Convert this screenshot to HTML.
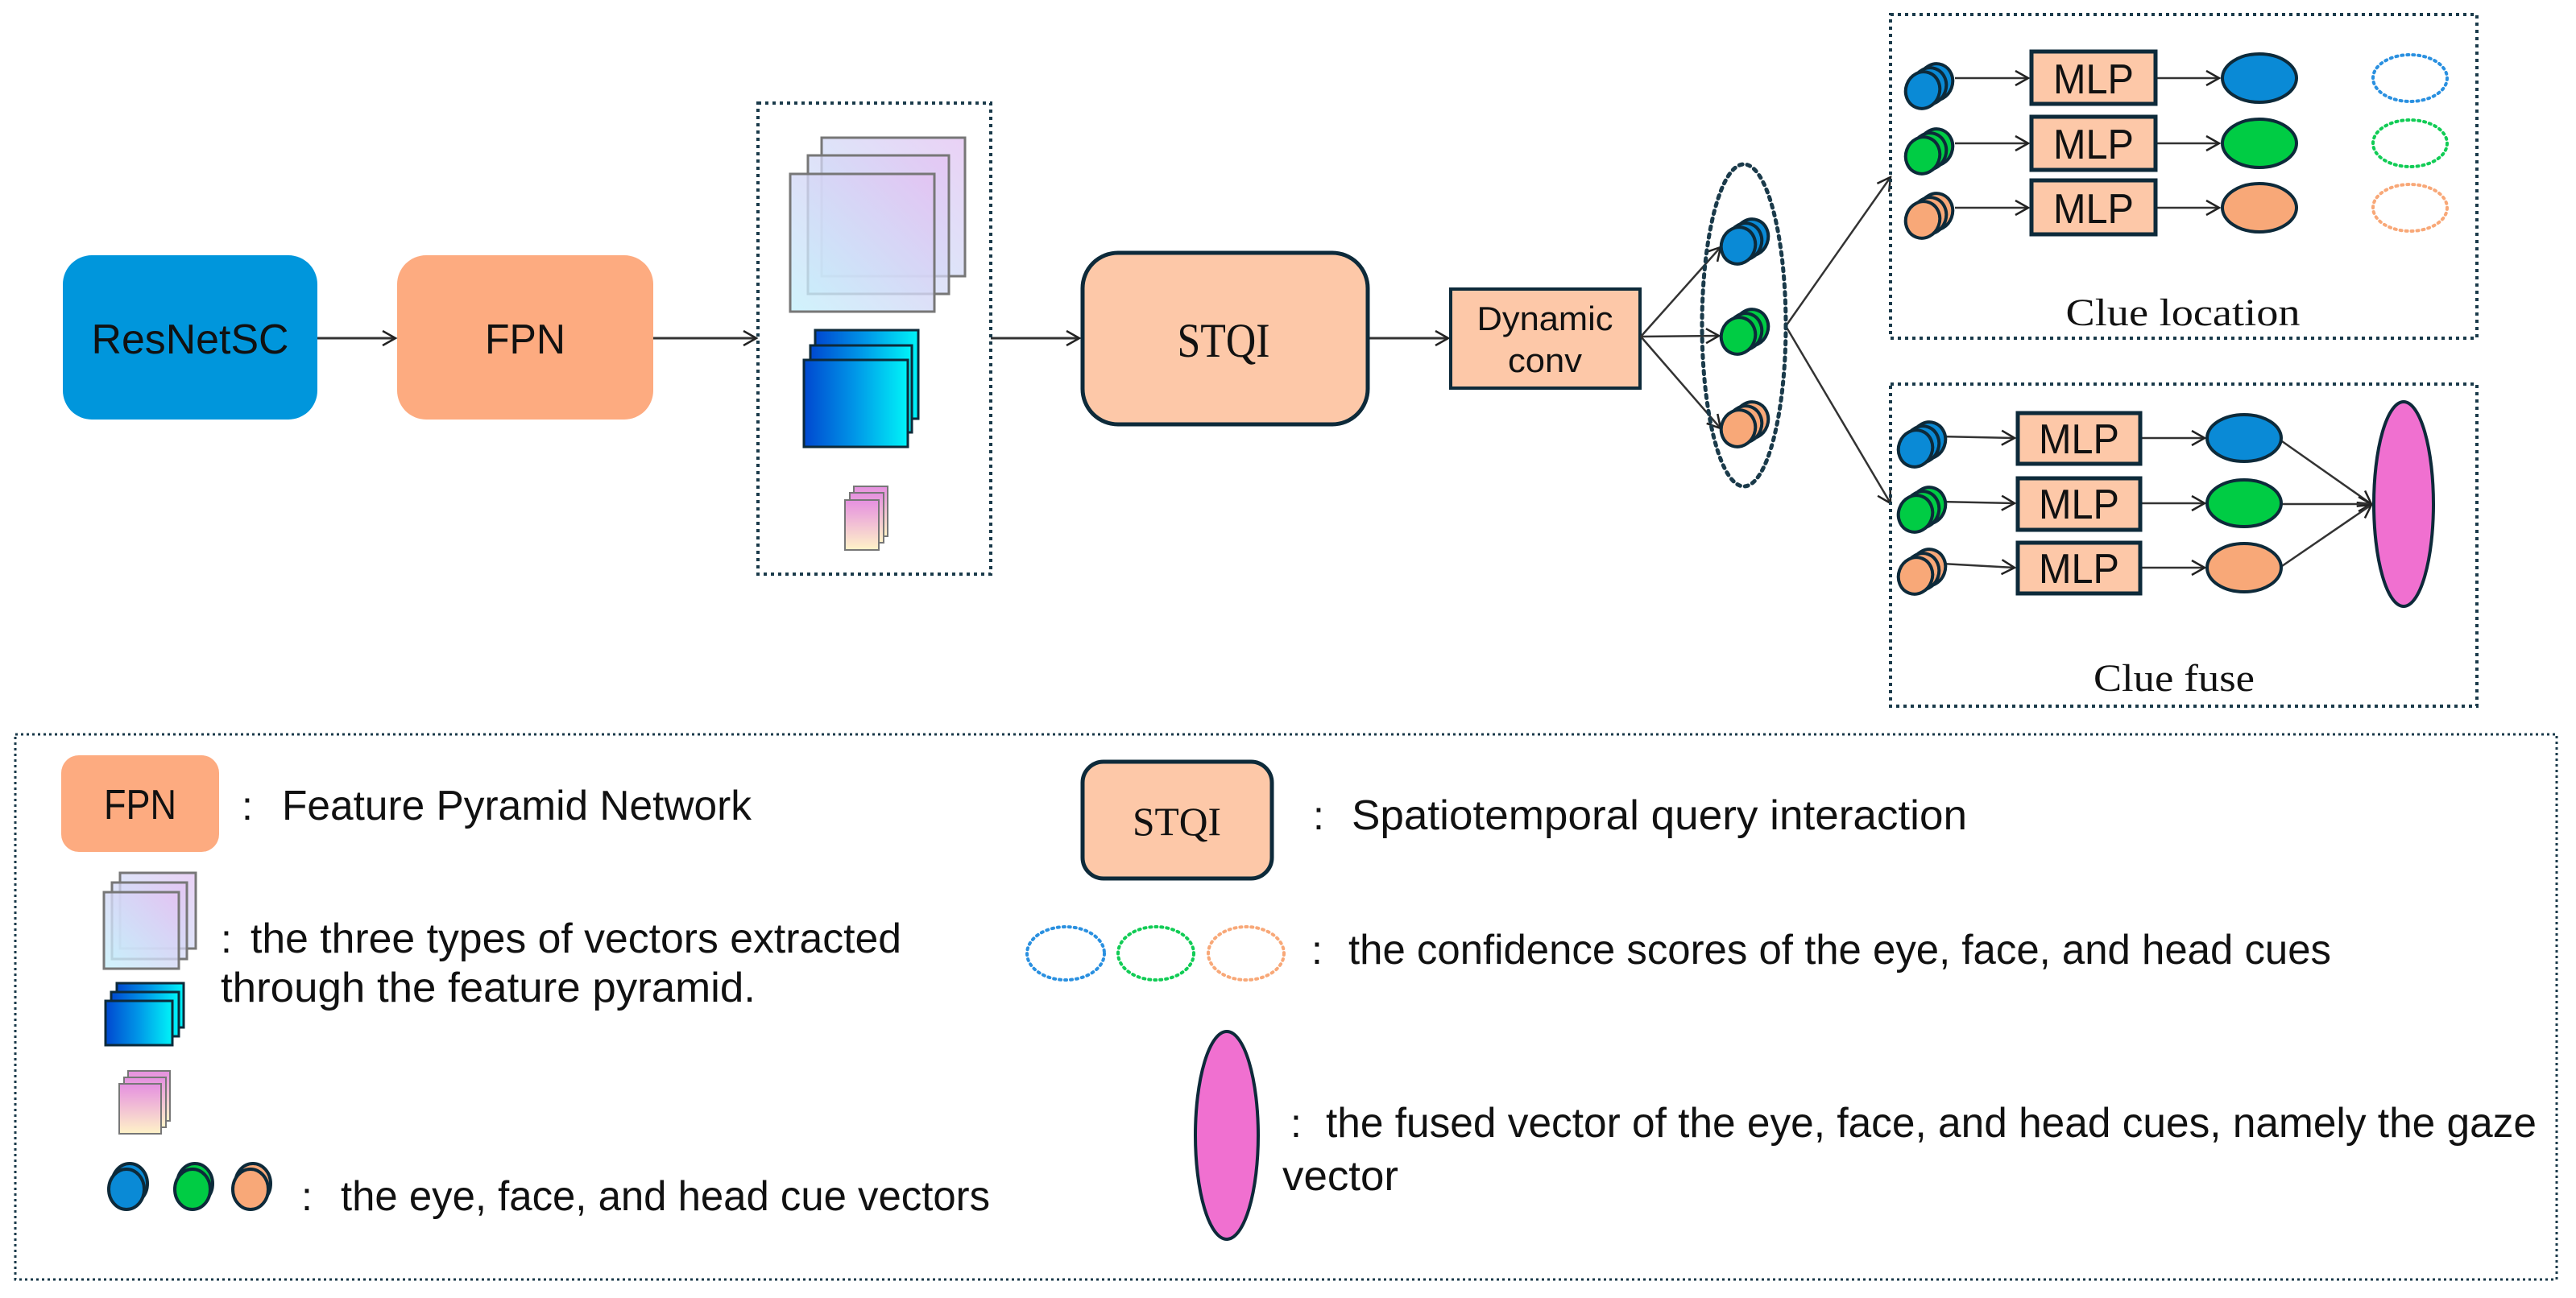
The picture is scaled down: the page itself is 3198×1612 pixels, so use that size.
<!DOCTYPE html>
<html><head><meta charset="utf-8"><style>
html,body{margin:0;padding:0;background:#fff;}
svg{display:block;}
.s{font-family:"Liberation Sans","Noto Sans CJK SC",sans-serif;fill:#111;}
.r{font-family:"Liberation Serif",serif;fill:#111;}
</style></head><body>
<svg width="3198" height="1612" viewBox="0 0 3198 1612" xmlns="http://www.w3.org/2000/svg">
<defs>
<linearGradient id="gp" x1="0" y1="1" x2="1" y2="0"><stop offset="0" stop-color="#c4f0fb"/><stop offset="1" stop-color="#e3c2f2"/></linearGradient>
<linearGradient id="gb" x1="0" y1="0" x2="1" y2="0"><stop offset="0" stop-color="#0048d0"/><stop offset="0.5" stop-color="#0098e8"/><stop offset="1" stop-color="#00f4f8"/></linearGradient>
<linearGradient id="gk" x1="0" y1="0" x2="0" y2="1"><stop offset="0" stop-color="#e590e0"/><stop offset="1" stop-color="#fff3c8"/></linearGradient>
<marker id="a" markerWidth="24" markerHeight="24" refX="20" refY="12" orient="auto" markerUnits="userSpaceOnUse"><path d="M4,3 L20,12 L4,21" fill="none" stroke="#222" stroke-width="2.5"/></marker>
<g id="stB"><ellipse cx="16" cy="-10" rx="21" ry="23" fill="#0a8ad6" stroke="#0d2a3a" stroke-width="4" transform="rotate(20 16 -10)"/><ellipse cx="8" cy="-5" rx="21" ry="23" fill="#0a8ad6" stroke="#0d2a3a" stroke-width="4" transform="rotate(20 8 -5)"/><ellipse cx="0" cy="0" rx="21" ry="23" fill="#0a8ad6" stroke="#0d2a3a" stroke-width="4" transform="rotate(20 0 0)"/></g>
<g id="stG"><ellipse cx="16" cy="-10" rx="21" ry="23" fill="#00cc44" stroke="#0d2a3a" stroke-width="4" transform="rotate(20 16 -10)"/><ellipse cx="8" cy="-5" rx="21" ry="23" fill="#00cc44" stroke="#0d2a3a" stroke-width="4" transform="rotate(20 8 -5)"/><ellipse cx="0" cy="0" rx="21" ry="23" fill="#00cc44" stroke="#0d2a3a" stroke-width="4" transform="rotate(20 0 0)"/></g>
<g id="stO"><ellipse cx="16" cy="-10" rx="21" ry="23" fill="#f8a878" stroke="#0d2a3a" stroke-width="4" transform="rotate(20 16 -10)"/><ellipse cx="8" cy="-5" rx="21" ry="23" fill="#f8a878" stroke="#0d2a3a" stroke-width="4" transform="rotate(20 8 -5)"/><ellipse cx="0" cy="0" rx="21" ry="23" fill="#f8a878" stroke="#0d2a3a" stroke-width="4" transform="rotate(20 0 0)"/></g>
</defs>

<rect x="78" y="317" width="316" height="204" rx="36" fill="#0096dc"/>
<text class="s" x="236" y="439" font-size="52" text-anchor="middle" textLength="245" lengthAdjust="spacingAndGlyphs">ResNetSC</text>
<rect x="493" y="317" width="318" height="204" rx="36" fill="#fdab80"/>
<text class="s" x="652" y="439" font-size="52" text-anchor="middle" textLength="100" lengthAdjust="spacingAndGlyphs">FPN</text>

<g stroke="#333" stroke-width="3" fill="none" marker-end="url(#a)">
<line x1="394" y1="420" x2="491" y2="420"/>
<line x1="811" y1="420" x2="939" y2="420"/>
<line x1="1230" y1="420" x2="1340" y2="420"/>
<line x1="1699" y1="420" x2="1798" y2="420"/>
</g>

<rect x="941" y="128" width="289" height="585" fill="none" stroke="#1a3a4a" stroke-width="4" stroke-dasharray="4 5"/>
<rect x="1020" y="171" width="178" height="172" fill="url(#gp)" fill-opacity="0.75" stroke="#777" stroke-width="3"/>
<rect x="1003" y="193" width="175" height="172" fill="url(#gp)" fill-opacity="0.75" stroke="#777" stroke-width="3"/>
<rect x="981" y="216" width="179" height="171" fill="url(#gp)" fill-opacity="0.8" stroke="#777" stroke-width="3"/>
<rect x="1012" y="410" width="128" height="110" fill="url(#gb)" stroke="#0d2a3a" stroke-width="3"/>
<rect x="1006" y="429" width="126" height="108" fill="url(#gb)" stroke="#0d2a3a" stroke-width="3"/>
<rect x="998" y="447" width="129" height="108" fill="url(#gb)" stroke="#0d2a3a" stroke-width="3"/>
<rect x="1060" y="604" width="42" height="62" fill="url(#gk)" stroke="#777" stroke-width="2"/>
<rect x="1055" y="612" width="42" height="62" fill="url(#gk)" stroke="#777" stroke-width="2"/>
<rect x="1049" y="621" width="42" height="62" fill="url(#gk)" stroke="#777" stroke-width="2"/>

<rect x="1344" y="314" width="354" height="213" rx="44" fill="#fdc8a8" stroke="#0d2a3a" stroke-width="5"/>
<text class="r" x="1519" y="443" font-size="60" text-anchor="middle" textLength="115" lengthAdjust="spacingAndGlyphs">STQI</text>

<rect x="1801" y="359" width="235" height="123" fill="#fdc8a8" stroke="#0d2a3a" stroke-width="4"/>
<text class="s" x="1918" y="410" font-size="42" text-anchor="middle" textLength="169" lengthAdjust="spacingAndGlyphs">Dynamic</text>
<text class="s" x="1918" y="462" font-size="42" text-anchor="middle" textLength="92" lengthAdjust="spacingAndGlyphs">conv</text>

<g stroke="#333" stroke-width="2.5" fill="none" marker-end="url(#a)">
<line x1="2037" y1="418" x2="2136" y2="307"/>
<line x1="2037" y1="418" x2="2134" y2="417"/>
<line x1="2037" y1="418" x2="2136" y2="532"/>
<line x1="2217" y1="405" x2="2347" y2="220"/>
<line x1="2217" y1="405" x2="2347" y2="625"/>
</g>
<ellipse cx="2165" cy="404" rx="52" ry="200" fill="none" stroke="#1a3a4a" stroke-width="5" stroke-dasharray="4 6" stroke-linecap="round"/>
<use href="#stB" x="2158" y="305"/>
<use href="#stG" x="2158" y="417"/>
<use href="#stO" x="2158" y="532"/>

<rect x="2347" y="18" width="728" height="402" fill="none" stroke="#1a3a4a" stroke-width="4" stroke-dasharray="4 5"/>
<g stroke="#333" stroke-width="2.5" fill="none" marker-end="url(#a)">
<line x1="2427" y1="97" x2="2518" y2="97"/>
<line x1="2427" y1="178" x2="2518" y2="178"/>
<line x1="2427" y1="258" x2="2518" y2="258"/>
<line x1="2677" y1="97" x2="2755" y2="97"/>
<line x1="2677" y1="178" x2="2755" y2="178"/>
<line x1="2677" y1="258" x2="2755" y2="258"/>
</g>
<use href="#stB" x="2387" y="112"/>
<use href="#stG" x="2387" y="193"/>
<use href="#stO" x="2387" y="273"/>
<g fill="#fdc8a8" stroke="#0d2a3a" stroke-width="5">
<rect x="2522" y="64" width="154" height="65"/>
<rect x="2522" y="145" width="154" height="66"/>
<rect x="2522" y="224" width="154" height="67"/>
</g>
<g class="s" font-size="52" text-anchor="middle">
<text x="2599" y="116" textLength="100" lengthAdjust="spacingAndGlyphs">MLP</text>
<text x="2599" y="197" textLength="100" lengthAdjust="spacingAndGlyphs">MLP</text>
<text x="2599" y="277" textLength="100" lengthAdjust="spacingAndGlyphs">MLP</text>
</g>
<ellipse cx="2805" cy="97" rx="46" ry="30" fill="#0a8ad6" stroke="#0d2a3a" stroke-width="4"/>
<ellipse cx="2805" cy="178" rx="46" ry="30" fill="#00cc44" stroke="#0d2a3a" stroke-width="4"/>
<ellipse cx="2805" cy="258" rx="46" ry="30" fill="#f8a878" stroke="#0d2a3a" stroke-width="4"/>
<g fill="none" stroke-width="4" stroke-dasharray="2 5" stroke-linecap="round">
<ellipse cx="2992" cy="97" rx="46" ry="29" stroke="#2a90e0"/>
<ellipse cx="2992" cy="178" rx="46" ry="29" stroke="#11cc55"/>
<ellipse cx="2992" cy="258" rx="46" ry="29" stroke="#f8a878"/>
</g>
<text class="r" x="2710" y="404" font-size="48" text-anchor="middle" textLength="291" lengthAdjust="spacingAndGlyphs">Clue location</text>

<rect x="2347" y="477" width="728" height="400" fill="none" stroke="#1a3a4a" stroke-width="4" stroke-dasharray="4 5"/>
<g stroke="#333" stroke-width="2.5" fill="none" marker-end="url(#a)">
<line x1="2410" y1="542" x2="2501" y2="544"/>
<line x1="2410" y1="623" x2="2501" y2="625"/>
<line x1="2410" y1="700" x2="2501" y2="705"/>
<line x1="2658" y1="544" x2="2737" y2="544"/>
<line x1="2658" y1="625" x2="2737" y2="625"/>
<line x1="2658" y1="705" x2="2737" y2="705"/>
<line x1="2833" y1="548" x2="2944" y2="626"/>
<line x1="2833" y1="626" x2="2944" y2="626"/>
<line x1="2833" y1="703" x2="2944" y2="627"/>
</g>
<use href="#stB" x="2378" y="557"/>
<use href="#stG" x="2378" y="638"/>
<use href="#stO" x="2378" y="715"/>
<g fill="#fdc8a8" stroke="#0d2a3a" stroke-width="5">
<rect x="2505" y="513" width="152" height="63"/>
<rect x="2505" y="594" width="152" height="64"/>
<rect x="2505" y="674" width="152" height="63"/>
</g>
<g class="s" font-size="52" text-anchor="middle">
<text x="2581" y="563" textLength="100" lengthAdjust="spacingAndGlyphs">MLP</text>
<text x="2581" y="644" textLength="100" lengthAdjust="spacingAndGlyphs">MLP</text>
<text x="2581" y="724" textLength="100" lengthAdjust="spacingAndGlyphs">MLP</text>
</g>
<ellipse cx="2786" cy="544" rx="46" ry="29" fill="#0a8ad6" stroke="#0d2a3a" stroke-width="4"/>
<ellipse cx="2786" cy="625" rx="46" ry="29" fill="#00cc44" stroke="#0d2a3a" stroke-width="4"/>
<ellipse cx="2786" cy="705" rx="46" ry="30" fill="#f8a878" stroke="#0d2a3a" stroke-width="4"/>
<ellipse cx="2984" cy="626" rx="37" ry="127" fill="#f070d0" stroke="#0d2a3a" stroke-width="4"/>
<text class="r" x="2699" y="858" font-size="48" text-anchor="middle" textLength="200" lengthAdjust="spacingAndGlyphs">Clue fuse</text>

<rect x="19" y="912" width="3155" height="677" fill="none" stroke="#1a3a4a" stroke-width="3" stroke-dasharray="3 4"/>
<rect x="76" y="938" width="196" height="120" rx="22" fill="#fdab80"/>
<text class="s" x="174" y="1017" font-size="52" text-anchor="middle" textLength="90" lengthAdjust="spacingAndGlyphs">FPN</text>
<text class="s" x="300" y="1018" font-size="50">:</text>
<text class="s" x="350" y="1018" font-size="52" textLength="583" lengthAdjust="spacingAndGlyphs">Feature Pyramid Network</text>

<rect x="149" y="1084" width="94" height="94" fill="url(#gp)" fill-opacity="0.75" stroke="#777" stroke-width="3"/>
<rect x="139" y="1096" width="93" height="95" fill="url(#gp)" fill-opacity="0.75" stroke="#777" stroke-width="3"/>
<rect x="129" y="1108" width="93" height="95" fill="url(#gp)" fill-opacity="0.8" stroke="#777" stroke-width="3"/>
<rect x="145" y="1221" width="83" height="55" fill="url(#gb)" stroke="#0d2a3a" stroke-width="3"/>
<rect x="138" y="1232" width="84" height="55" fill="url(#gb)" stroke="#0d2a3a" stroke-width="3"/>
<rect x="131" y="1243" width="83" height="55" fill="url(#gb)" stroke="#0d2a3a" stroke-width="3"/>
<rect x="159" y="1330" width="52" height="62" fill="url(#gk)" stroke="#777" stroke-width="2"/>
<rect x="154" y="1338" width="52" height="62" fill="url(#gk)" stroke="#777" stroke-width="2"/>
<rect x="148" y="1346" width="52" height="62" fill="url(#gk)" stroke="#777" stroke-width="2"/>
<text class="s" x="274" y="1183" font-size="50">:</text>
<text class="s" x="311" y="1183" font-size="52" textLength="808" lengthAdjust="spacingAndGlyphs">the three types of vectors extracted</text>
<text class="s" x="274" y="1244" font-size="52" textLength="664" lengthAdjust="spacingAndGlyphs">through the feature pyramid.</text>

<g stroke="#0d2a3a" stroke-width="4">
<ellipse cx="161" cy="1470" rx="22" ry="25" fill="#0a8ad6"/><ellipse cx="157" cy="1477" rx="22" ry="25" fill="#0a8ad6"/>
<ellipse cx="242" cy="1470" rx="22" ry="25" fill="#00cc44"/><ellipse cx="239" cy="1477" rx="22" ry="25" fill="#00cc44"/>
<ellipse cx="314" cy="1470" rx="22" ry="25" fill="#f8a878"/><ellipse cx="311" cy="1477" rx="22" ry="25" fill="#f8a878"/>
</g>
<text class="s" x="374" y="1503" font-size="50">:</text>
<text class="s" x="423" y="1503" font-size="52" textLength="806" lengthAdjust="spacingAndGlyphs">the eye, face, and head cue vectors</text>

<rect x="1344" y="946" width="235" height="145" rx="26" fill="#fdc8a8" stroke="#0d2a3a" stroke-width="5"/>
<text class="r" x="1461" y="1037" font-size="50" text-anchor="middle" textLength="110" lengthAdjust="spacingAndGlyphs">STQI</text>
<text class="s" x="1630" y="1030" font-size="50">:</text>
<text class="s" x="1678" y="1030" font-size="52" textLength="764" lengthAdjust="spacingAndGlyphs">Spatiotemporal  query interaction</text>

<g fill="none" stroke-width="4" stroke-dasharray="2 5" stroke-linecap="round">
<ellipse cx="1323" cy="1184" rx="48" ry="33" stroke="#2a90e0"/>
<ellipse cx="1435" cy="1184" rx="47" ry="33" stroke="#11cc55"/>
<ellipse cx="1547" cy="1184" rx="47" ry="33" stroke="#f8a878"/>
</g>
<text class="s" x="1628" y="1197" font-size="50">:</text>
<text class="s" x="1674" y="1197" font-size="52" textLength="1220" lengthAdjust="spacingAndGlyphs">the confidence scores of the eye, face, and head cues</text>

<ellipse cx="1523" cy="1410" rx="39" ry="129" fill="#f070d0" stroke="#0d2a3a" stroke-width="4"/>
<text class="s" x="1602" y="1412" font-size="50">:</text>
<text class="s" x="1646" y="1412" font-size="52" textLength="1503" lengthAdjust="spacingAndGlyphs">the fused vector of the eye, face, and head cues, namely the gaze</text>
<text class="s" x="1592" y="1478" font-size="52" textLength="144" lengthAdjust="spacingAndGlyphs">vector</text>
</svg>
</body></html>
